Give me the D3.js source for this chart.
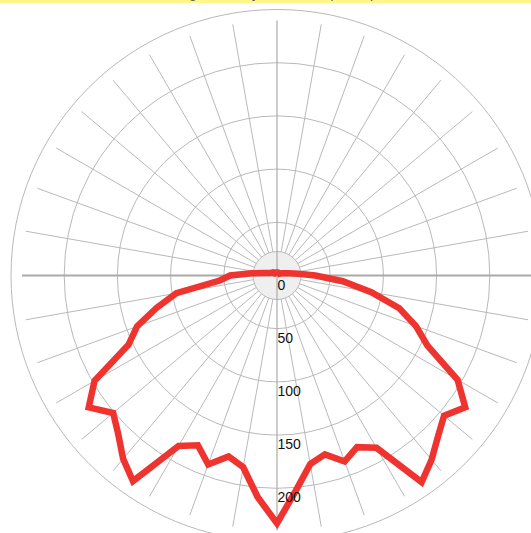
<!DOCTYPE html>
<html>
<head>
<meta charset="utf-8">
<script src="https://cdn.jsdelivr.net/npm/d3@7"></script>
<style>
  html, body { margin: 0; padding: 0; background: #fff; overflow: hidden; }
  svg { display: block; }
</style>
</head>
<body>
<svg id="chart" width="531" height="533"></svg>
<script>
// Gamma angles (degrees from nadir) shared by both half-planes
const angles = d3.range(0, 181, 5);

// Luminous intensity (cd/klm) for the left half-plane, one value per angle
const planeLeft = [233, 209, 183, 176, 189, 176, 185, 236, 225, 211, 201, 216, 198,
  154, 140, 117, 96, 54, 44, 24, 13, 9, 7, 6, 5, 4, 4, 3, 3, 3, 3, 3, 3, 3, 3, 3, 3];

// Luminous intensity (cd/klm) for the right half-plane
const planeRight = [233, 203, 180, 174, 186, 178, 187, 237, 226, 214, 205, 216, 196,
  156, 139, 119, 90, 62, 36, 20, 12, 8, 6, 5, 4, 3, 3, 3, 3, 3, 3, 3, 3, 3, 3, 3, 3];

// Radial rings and their labels
const ringValues = [50, 100, 150, 200, 250];
const tickLabels = [0, 50, 100, 150, 200];
const spokeStep = 10;
const title = "Light intensity distribution (cd/klm)";

const svg = d3.select("#chart");
const cx = 277, cy = 275.5;
const rMax = 266, spokeLen = 255, hubR = 24;

const r = d3.scaleLinear().domain([0, 250]).range([0, rMax]);

// header band (the title sits above the page, only its descenders reach the band)
svg.append("rect").attr("x", 0).attr("y", 0).attr("width", 531).attr("height", 3)
  .attr("fill", "#fff68c");
svg.append("text").attr("x", 277).attr("y", -2).attr("text-anchor", "middle")
  .attr("font-family", "Liberation Sans, Arial, sans-serif").attr("font-size", 13)
  .attr("fill", "#555").text(title);

const g = svg.append("g").attr("transform", `translate(${cx},${cy})`);
const grid = g.append("g").attr("fill", "none");

// concentric rings
grid.selectAll("circle.ring").data(ringValues).join("circle")
  .attr("class", "ring").attr("r", d => r(d))
  .attr("stroke", "#b9b9b9").attr("stroke-width", 1);

// spokes every 10°, starting at the hub
const spokeAngles = d3.range(0, 360, spokeStep).filter(a => a % 90 !== 0);
grid.selectAll("line.spoke").data(spokeAngles).join("line")
  .attr("class", "spoke")
  .attr("x1", a => hubR * Math.sin(a * Math.PI / 180))
  .attr("y1", a => hubR * Math.cos(a * Math.PI / 180))
  .attr("x2", a => spokeLen * Math.sin(a * Math.PI / 180))
  .attr("y2", a => spokeLen * Math.cos(a * Math.PI / 180))
  .attr("stroke", "#b9b9b9").attr("stroke-width", 1);

// hub
g.append("circle").attr("r", hubR).attr("fill", "#efefef")
  .attr("stroke", "#b9b9b9").attr("stroke-width", 1);

// main axes
g.append("line").attr("x1", 0).attr("y1", -spokeLen).attr("x2", 0).attr("y2", spokeLen)
  .attr("stroke", "#aaaaaa").attr("stroke-width", 1.2);
g.append("line").attr("x1", -spokeLen).attr("y1", 0).attr("x2", spokeLen).attr("y2", 0)
  .attr("stroke", "#aaaaaa").attr("stroke-width", 2);

// intensity curve: right half from 180° down to 0°, then left half back up to 180°
const pts = [];
for (let i = angles.length - 1; i >= 0; i--) {
  pts.push({ a: Math.PI - angles[i] * Math.PI / 180, v: planeRight[i] });
}
for (let i = 1; i < angles.length; i++) {
  pts.push({ a: Math.PI + angles[i] * Math.PI / 180, v: planeLeft[i] });
}
const line = d3.lineRadial().angle(d => d.a).radius(d => r(d.v)).curve(d3.curveLinear);
g.append("path").datum(pts).attr("d", line)
  .attr("fill", "none").attr("stroke", "#ef3430").attr("stroke-width", 6.5)
  .attr("stroke-linejoin", "miter").attr("stroke-miterlimit", 4);

// radial labels along the nadir axis
g.selectAll("text.tick").data(tickLabels).join("text")
  .attr("class", "tick")
  .attr("x", 0.5).attr("y", d => r(d) + 14)
  .attr("font-family", "Liberation Sans, Arial, sans-serif").attr("font-size", 14)
  .attr("fill", "#111").text(d => d);
</script>
</body>
</html>
